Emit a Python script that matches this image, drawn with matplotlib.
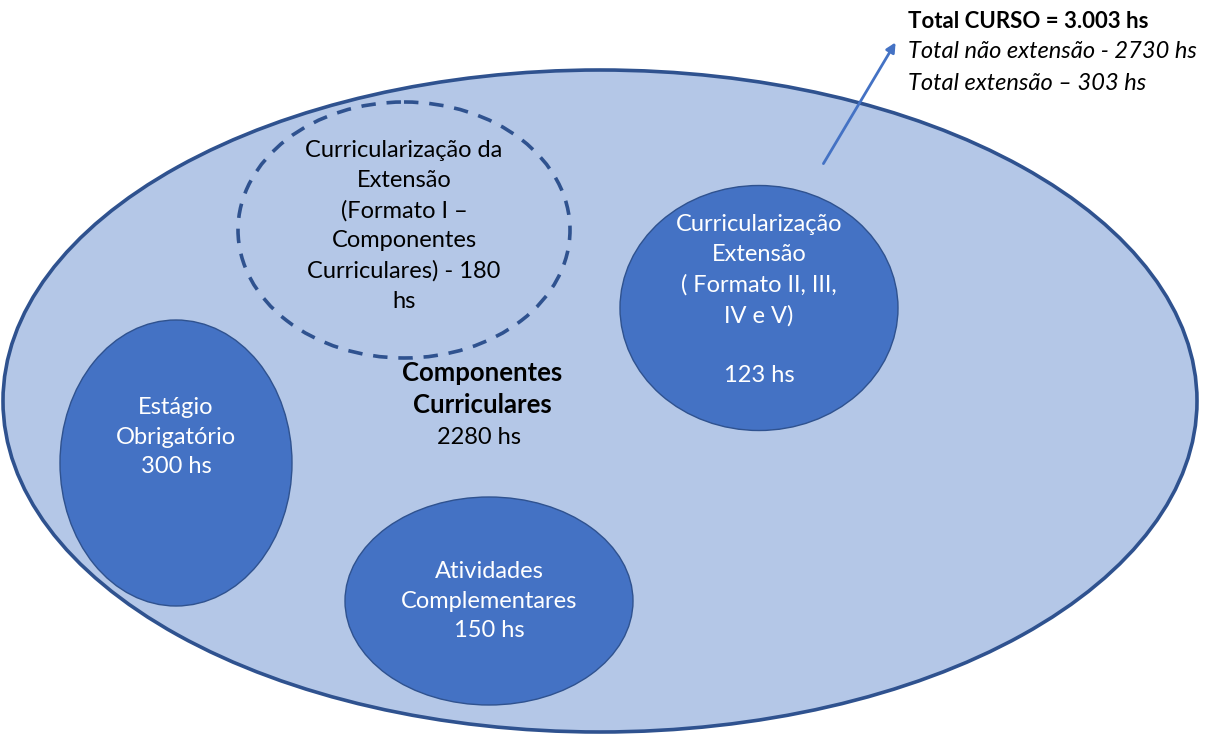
import matplotlib.pyplot as plt
from matplotlib.patches import Ellipse

plt.rcParams['font.family'] = ['Lato', 'DejaVu Sans']

# hours per component
total_curso = '3.003'
total_nao_ext = 2730
total_ext = 303
comp_curric = 2280
ext_formato1 = 180
ext_outros = 123
estagio = 300
ativ_compl = 150

light = '#B4C7E7'
mid = '#4472C4'
edge = '#2F528F'

fig = plt.figure(figsize=(12.16, 7.36), dpi=100)
ax = fig.add_axes([0, 0, 1, 1])
ax.set_xlim(0, 1216)
ax.set_ylim(736, 0)
ax.axis('off')

# big ellipse
ax.add_patch(Ellipse((600, 401), 1194, 662, facecolor=light, edgecolor=edge, lw=2.6))

# dashed ellipse
ax.add_patch(Ellipse((404, 230), 332, 256, facecolor='none', edgecolor=edge,
                     lw=2.6, linestyle=(0, (4, 3))))

# solid inner ellipses
for c, w, h in [((176, 463), 232, 286), ((489, 601), 288, 208), ((759, 308), 278, 245)]:
    ax.add_patch(Ellipse(c, w, h, facecolor=mid, edgecolor=edge, lw=1))

fs = 17
ls = 1.52
ax.text(404, 226, f'Curricularização da\nExtensão\n(Formato I –\nComponentes\nCurriculares) - {ext_formato1}\nhs',
        ha='center', va='center', fontsize=fs, linespacing=ls, color='black')
ax.text(759, 300, f'Curricularização\nExtensão\n( Formato II, III,\nIV e V)\n\n{ext_outros} hs',
        ha='center', va='center', fontsize=fs, linespacing=ls, color='white')
ax.text(176, 437, f'Estágio\nObrigatório\n{estagio} hs',
        ha='center', va='center', fontsize=fs, linespacing=ls, color='white')
ax.text(489, 601, f'Atividades\nComplementares\n{ativ_compl} hs',
        ha='center', va='center', fontsize=fs, linespacing=ls, color='white')
ax.text(482, 389, 'Componentes\nCurriculares', ha='center', va='center',
        fontsize=18.5, linespacing=1.4, fontweight='bold')
ax.text(479, 437, f'{comp_curric} hs', ha='center', va='center', fontsize=fs)

# arrow
ax.annotate('', xy=(897, 40), xytext=(822, 166),
            arrowprops=dict(arrowstyle='-|>', color=mid, lw=2, mutation_scale=14))

ax.text(908, 21, f'Total CURSO = {total_curso} hs', ha='left', va='center',
        fontsize=16, fontweight='bold')
ax.text(908, 52, f'Total não extensão - {total_nao_ext} hs', ha='left', va='center',
        fontsize=17, style='italic')
ax.text(908, 83, f'Total extensão – {total_ext} hs', ha='left', va='center',
        fontsize=17, style='italic')

fig.savefig('out.png', dpi=100)
